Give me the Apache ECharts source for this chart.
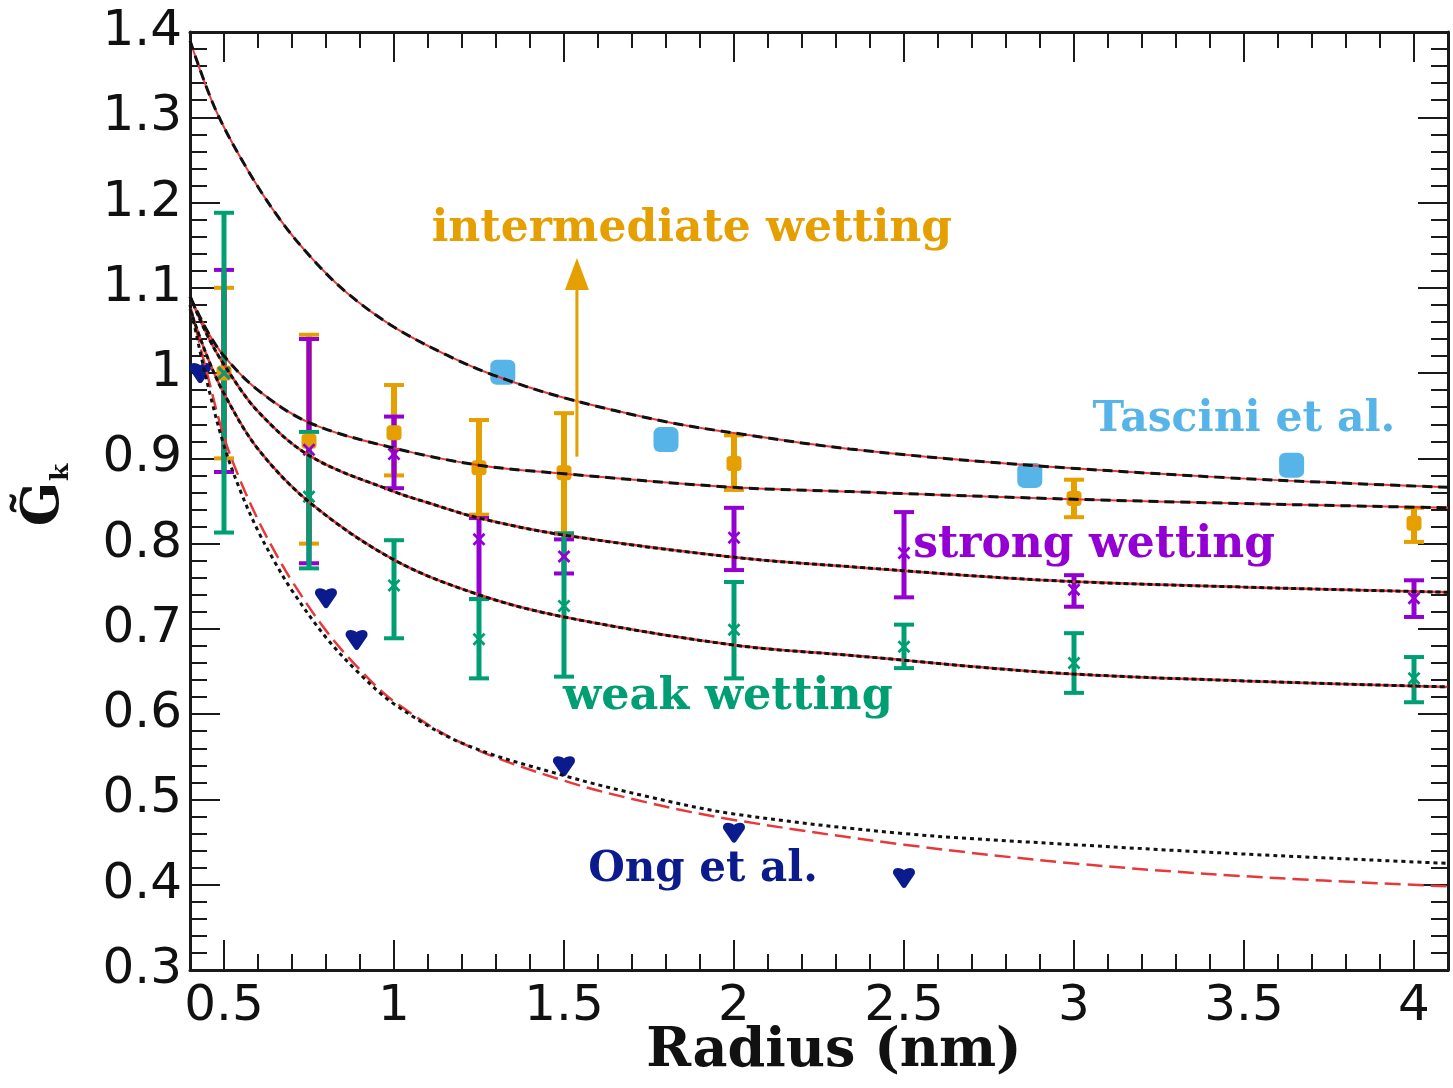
<!DOCTYPE html>
<html><head><meta charset="utf-8">
<script src="https://cdn.jsdelivr.net/npm/echarts@6/dist/echarts.min.js"></script>
<style>html,body{margin:0;padding:0;background:#fff}#c{width:1453px;height:1088px}</style>
</head><body><div id="c"></div>
<script>
// ---------- tick labels ----------
const xTicks = [0.5, 1, 1.5, 2, 2.5, 3, 3.5, 4];
const yTicks = [0.3, 0.4, 0.5, 0.6, 0.7, 0.8, 0.9, 1.0, 1.1, 1.2, 1.3, 1.4];

// ---------- simulation data (points with error bars) ----------
const interX  = [0.5, 0.75, 1, 1.25, 1.5, 2, 3, 4];
const interY  = [1.0, 0.92, 0.93, 0.889, 0.883, 0.894, 0.853, 0.824];
const interLo = [0.90, 0.80, 0.88, 0.834, 0.812, 0.863, 0.831, 0.802];
const interHi = [1.10, 1.045, 0.986, 0.945, 0.953, 0.927, 0.875, 0.842];

const strongX  = [0.5, 0.75, 1, 1.25, 1.5, 2, 2.5, 3, 4];
const strongY  = [1.0, 0.91, 0.905, 0.805, 0.785, 0.807, 0.789, 0.746, 0.736];
const strongLo = [0.884, 0.777, 0.865, 0.735, 0.765, 0.769, 0.737, 0.726, 0.714];
const strongHi = [1.121, 1.04, 0.949, 0.83, 0.805, 0.842, 0.837, 0.763, 0.757];

const weakX  = [0.5, 0.75, 1, 1.25, 1.5, 2, 2.5, 3, 4];
const weakY  = [1.0, 0.855, 0.751, 0.688, 0.727, 0.699, 0.679, 0.660, 0.642];
const weakLo = [0.813, 0.771, 0.689, 0.642, 0.644, 0.642, 0.654, 0.625, 0.614];
const weakHi = [1.188, 0.931, 0.804, 0.735, 0.812, 0.755, 0.705, 0.695, 0.667];

// ---------- literature data ----------
const tasciniX = [1.32, 1.80, 2.87, 3.64];
const tasciniY = [1.001, 0.922, 0.880, 0.892];
const ongX = [0.43, 0.80, 0.89, 1.50, 2.00, 2.50];
const ongY = [1.0, 0.736, 0.687, 0.539, 0.461, 0.408];

// ---------- fitted curves ----------
const curveAX = [0.4, 0.474, 0.567, 0.665, 0.762, 0.862, 1.0, 1.156, 1.29, 1.5, 1.8, 2.03, 2.34, 2.8, 3.42, 3.85, 4.1];
const curveAY = [1.39, 1.31, 1.24, 1.18, 1.133, 1.094, 1.054, 1.021, 0.998, 0.971, 0.943, 0.928, 0.911, 0.894, 0.878, 0.870, 0.866];
const curveBX = [0.4, 0.45, 0.5, 0.6, 0.75, 1.0, 1.25, 1.5, 2.0, 2.34, 2.92, 3.5, 4.1];
const curveBY = [1.09, 1.05, 1.02, 0.98, 0.942, 0.912, 0.892, 0.882, 0.866, 0.861, 0.853, 0.847, 0.842];
const curveCX = [0.4, 0.45, 0.5, 0.6, 0.756, 1.0, 1.1, 1.25, 1.5, 2.0, 2.34, 2.92, 3.5, 4.1];
const curveCY = [1.09, 1.045, 1.01, 0.955, 0.902, 0.861, 0.848, 0.83, 0.81, 0.784, 0.773, 0.757, 0.749, 0.743];
const curveDX = [0.4, 0.45, 0.5, 0.6, 0.756, 1.0, 1.25, 1.5, 2.0, 2.34, 2.92, 3.5, 4.1];
const curveDY = [1.075, 1.02, 0.976, 0.911, 0.847, 0.781, 0.740, 0.714, 0.681, 0.669, 0.649, 0.639, 0.632];
const curveEX = [0.4, 0.45, 0.5, 0.55, 0.6, 0.65, 0.7, 0.8, 0.9, 1.0, 1.2, 1.5, 1.75, 2.0, 2.5, 3.0, 3.5, 4.1];
const curveEBlackY = [1.08, 0.99, 0.915, 0.86, 0.815, 0.778, 0.745, 0.69, 0.647, 0.612, 0.566, 0.528, 0.503, 0.483, 0.460, 0.447, 0.436, 0.425];
const curveERedY   = [1.08, 1.0, 0.925, 0.872, 0.828, 0.79, 0.756, 0.698, 0.652, 0.615, 0.566, 0.522, 0.496, 0.476, 0.447, 0.425, 0.41, 0.398];

// ---------- annotations ----------
const labels = [
  {text: 'intermediate wetting', x: 1.876, y: 1.168, color: '#E69F00', size: 44},
  {text: 'Tascini et al.',       x: 3.50,  y: 0.945, color: '#56B4E9', size: 42.5},
  {text: 'strong wetting',       x: 3.059, y: 0.798, color: '#9400D3', size: 44},
  {text: 'weak wetting',         x: 1.982, y: 0.620, color: '#009E73', size: 44.5},
  {text: 'Ong et al.',           x: 1.909, y: 0.417, color: '#0B1A8C', size: 42}
];
const arrowX = 1.538, arrowFrom = 0.902, arrowTo = 1.135;

// ---------- helpers ----------
const zip = (a, b) => a.map((v, i) => [v, b[i]]);
const zip3 = (a, b, c) => a.map((v, i) => [v, b[i], c[i]]);
function minorOf(majors, n, lo, hi) {
  const step = (majors[1] - majors[0]) / n, out = [];
  for (let v = majors[0] - step; v > lo + 1e-9; v -= step) out.push(+v.toFixed(4));
  for (let i = 0; i < majors.length; i++) {
    for (let k = 1; k < n; k++) {
      const v = +(majors[i] + k * step).toFixed(4);
      if (v < hi - 1e-9) out.push(v);
    }
  }
  return out;
}
const xMinor = minorOf(xTicks, 5, 0.4, 4.1);
const yMinor = minorOf(yTicks, 5, 0.3, 1.4);

function errRender(color, lw) {
  return function (params, api) {
    const x = api.value(0), lo = api.value(1), hi = api.value(2);
    const a = api.coord([x, lo]), b = api.coord([x, hi]);
    const w = 10;
    const st = {stroke: color, lineWidth: lw};
    const cap = {stroke: color, lineWidth: 4};
    return {type: 'group', children: [
      {type: 'line', shape: {x1: a[0], y1: a[1], x2: b[0], y2: b[1]}, style: st},
      {type: 'line', shape: {x1: a[0] - w, y1: a[1], x2: a[0] + w, y2: a[1]}, style: cap},
      {type: 'line', shape: {x1: b[0] - w, y1: b[1], x2: b[0] + w, y2: b[1]}, style: cap}
    ]};
  };
}
const xMark = 'path://M0,1.5L1.5,0L5,3.5L8.5,0L10,1.5L6.5,5L10,8.5L8.5,10L5,6.5L1.5,10L0,8.5L3.5,5Z';
const ongMark = 'path://M2.2,0C3.4,0 4.4,0.5 5,1.1C5.6,0.5 6.6,0 7.8,0C9.6,0 10.4,1.6 9.8,3.2L6,9.3C5.5,10.1 4.5,10.1 4,9.3L0.2,3.2C-0.4,1.6 0.4,0 2.2,0Z';

const axisCol = '#1a1a1a';
function xAx(pos, ticks, len, labels, line) {
  return {type: 'value', min: 0.4, max: 4.1, position: pos,
    axisLine: {show: line, onZero: false, lineStyle: {color: axisCol, width: 3}},
    axisTick: {show: true, inside: true, length: len, customValues: ticks, lineStyle: {color: axisCol, width: 2}},
    axisLabel: labels ? {show: true, customValues: ticks, fontSize: 50, fontFamily: 'DejaVu Sans', color: '#111', margin: 12, formatter: v => String(+v.toFixed(2))} : {show: false},
    splitLine: {show: false}};
}
function yAx(pos, ticks, len, labels, line) {
  return {type: 'value', min: 0.3, max: 1.4, position: pos,
    axisLine: {show: line, onZero: false, lineStyle: {color: axisCol, width: 3}},
    axisTick: {show: true, inside: true, length: len, customValues: ticks, lineStyle: {color: axisCol, width: 2}},
    axisLabel: labels ? {show: true, customValues: ticks, fontSize: 50, fontFamily: 'DejaVu Sans', color: '#111', margin: 8, formatter: v => String(+v.toFixed(2))} : {show: false},
    splitLine: {show: false}};
}

function curve(xs, ys, color, width, type, z) {
  return {type: 'line', data: zip(xs, ys), showSymbol: false, smooth: 0.35,
    lineStyle: {color, width, type}, z, silent: true, animation: false};
}
function pts(xs, ys, symbol, size, color) {
  return {type: 'scatter', data: zip(xs, ys), symbol, symbolSize: size,
    itemStyle: {color, opacity: 1}, z: 3};
}

const chart = echarts.init(document.getElementById('c'), null, {renderer: 'canvas'});
const red = '#e8393a';
const option = {
  animation: false,
  backgroundColor: '#ffffff',
  grid: {left: 190, right: 5, top: 32, bottom: 118},
  xAxis: [
    xAx('bottom', xTicks, 30, true, true),
    xAx('bottom', xMinor, 16, false, false),
    xAx('top', xTicks, 30, false, true),
    xAx('top', xMinor, 16, false, false)
  ],
  yAxis: [
    yAx('left', yTicks, 30, true, true),
    yAx('left', yMinor, 17, false, false),
    yAx('right', yTicks, 30, false, true),
    yAx('right', yMinor, 17, false, false)
  ],
  series: [
    {type: 'custom', renderItem: errRender('#E69F00', 6), data: zip3(interX, interLo, interHi), encode: {x: 0, y: [1, 2]}, z: 2},
    {type: 'custom', renderItem: errRender('#9400D3', 5), data: zip3(strongX, strongLo, strongHi), encode: {x: 0, y: [1, 2]}, z: 2},
    {type: 'custom', renderItem: errRender('#009E73', 5), data: zip3(weakX, weakLo, weakHi), encode: {x: 0, y: [1, 2]}, z: 2},
    pts(interX, interY, 'roundRect', 15, '#E69F00'),
    pts(strongX, strongY, xMark, 13, '#9400D3'),
    pts(weakX, weakY, xMark, 13, '#009E73'),
    pts(tasciniX, tasciniY, 'roundRect', 25, '#56B4E9'),
    pts(ongX, ongY, ongMark, [22, 20], '#0B1A8C'),
    curve(curveAX, curveAY, red, 2, 'solid', 4),
    curve(curveAX, curveAY, '#111', 3, [10, 6], 5),
    curve(curveBX, curveBY, red, 2, 'solid', 4),
    curve(curveBX, curveBY, '#111', 3, [10, 6], 5),
    curve(curveCX, curveCY, red, 2.5, 'solid', 4),
    curve(curveCX, curveCY, '#111', 3, [5, 3], 5),
    curve(curveDX, curveDY, red, 2.5, 'solid', 4),
    curve(curveDX, curveDY, '#111', 3, [5, 3], 5),
    curve(curveEX, curveERedY, red, 2.5, [16, 7], 4),
    curve(curveEX, curveEBlackY, '#111', 3, [4, 4], 5)
  ]
};
chart.setOption(option);

function P(x, y) { return chart.convertToPixel({xAxisIndex: 0, yAxisIndex: 0}, [x, y]); }
const g = [];
labels.forEach(l => {
  const p = P(l.x, l.y);
  g.push({type: 'text', z: 10, x: p[0], y: p[1], style: {text: l.text, fill: l.color,
    font: 'bold ' + l.size + 'px "DejaVu Serif"', align: 'center', verticalAlign: 'middle'}});
});
const a0 = P(arrowX, arrowFrom), a1 = P(arrowX, arrowTo);
g.push({type: 'line', z: 10, shape: {x1: a0[0], y1: a0[1], x2: a1[0], y2: a1[1] + 28}, style: {stroke: '#E69F00', lineWidth: 3}});
g.push({type: 'polygon', z: 10, shape: {points: [[a1[0], a1[1]], [a1[0] - 12, a1[1] + 32], [a1[0] + 12, a1[1] + 32]]}, style: {fill: '#E69F00'}});
// axis titles
g.push({type: 'text', z: 10, x: 834, y: 1052, style: {text: 'Radius (nm)', fill: '#111',
  font: 'bold 54px "DejaVu Serif"', align: 'center', verticalAlign: 'middle'}});
g.push({type: 'text', z: 10, x: 44, y: 495, rotation: Math.PI / 2, style: {
  text: '{g|G\u0303}{k|k}', align: 'center', verticalAlign: 'middle', fill: '#111',
  rich: {g: {font: 'bold 52px "DejaVu Serif"', fill: '#111', lineHeight: 60},
         k: {font: 'bold 25px "DejaVu Serif"', fill: '#111', verticalAlign: 'bottom', lineHeight: 50, padding: [0, 0, 0, 1]}}}});
chart.setOption({graphic: g});
</script>
</body></html>
